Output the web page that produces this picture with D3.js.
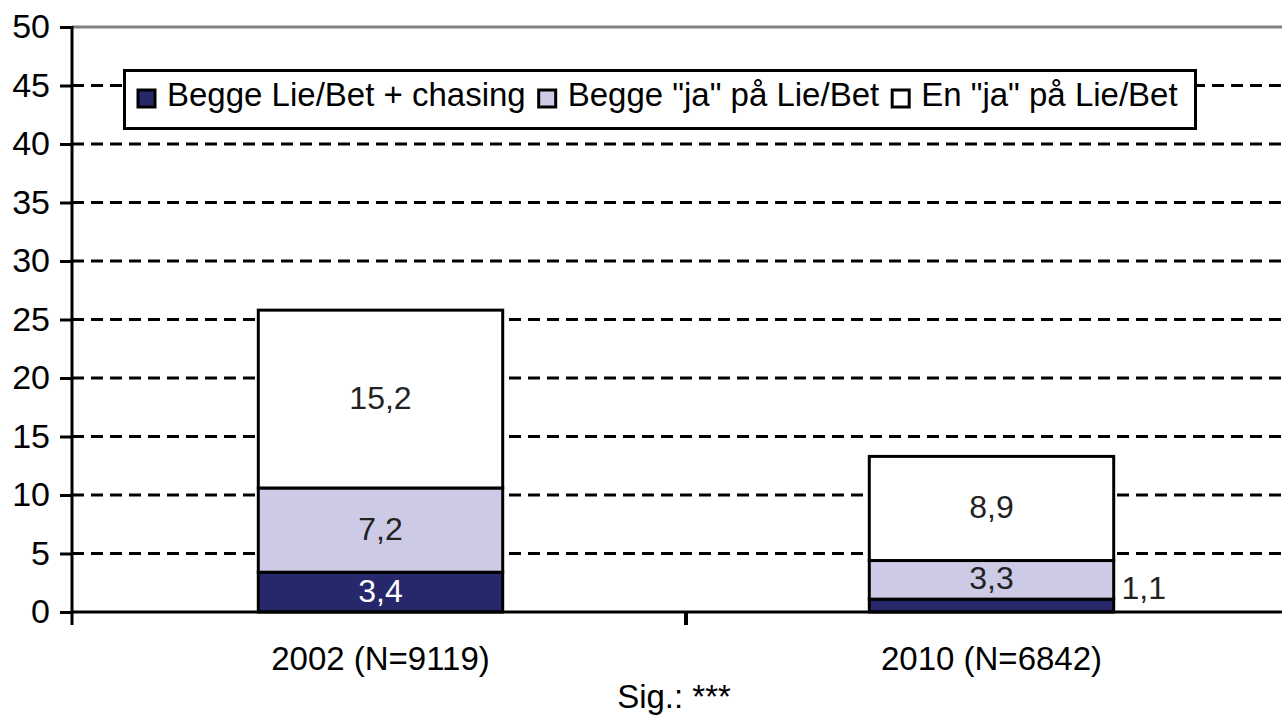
<!DOCTYPE html>
<html>
<head>
<meta charset="utf-8">
<script src="https://cdn.jsdelivr.net/npm/d3@7"></script>
<style>
  html, body { margin: 0; padding: 0; background: #fff; }
  svg { display: block; font-family: "Liberation Sans", Arial, sans-serif; }
</style>
</head>
<body>
<div id="chart"></div>
<script>
// Data
const categories = ["2002 (N=9119)", "2010 (N=6842)"];
const seriesNames = ["Begge Lie/Bet + chasing", "Begge \"ja\" på Lie/Bet", "En \"ja\" på Lie/Bet"];
const chasing = [3.4, 1.1];
const beggeJa = [7.2, 3.3];
const enJa = [15.2, 8.9];
const yTicks = [0, 5, 10, 15, 20, 25, 30, 35, 40, 45, 50];
const footnote = "Sig.: ***";

const width = 1282, height = 715;
const colors = ["#27276b", "#cccae5", "#ffffff"];

const svg = d3.select("#chart").append("svg")
    .attr("width", width)
    .attr("height", height);

const x = d3.scaleBand()
    .domain(categories)
    .range([75, 1297])
    .paddingInner(0.6)
    .paddingOuter(0.3);

const y = d3.scaleLinear()
    .domain([0, 50])
    .range([612, 27]);

// Stack the series
const keys = ["s0", "s1", "s2"];
const rows = categories.map((c, i) => ({ cat: c, s0: chasing[i], s1: beggeJa[i], s2: enJa[i] }));
const stacked = d3.stack().keys(keys)(rows);

// Gridlines
svg.append("g")
    .selectAll("line")
    .data(yTicks.filter(t => t > 0))
    .join("line")
    .attr("x1", 72)
    .attr("x2", width)
    .attr("y1", d => y(d))
    .attr("y2", d => y(d))
    .attr("stroke", d => d === 50 ? "#808080" : "#000")
    .attr("stroke-width", 3)
    .attr("stroke-dasharray", d => d === 50 ? null : "12,7");

// Y axis
const yAxis = svg.append("g")
    .attr("transform", "translate(72,0)")
    .call(d3.axisLeft(y).tickValues(yTicks).tickSize(12).tickPadding(10));
yAxis.select(".domain").remove();
yAxis.selectAll(".tick line").attr("stroke", "#000").attr("stroke-width", 3);
yAxis.selectAll(".tick text")
    .attr("fill", "#000")
    .style("font-size", "34px")
    .style("font-family", "'Liberation Sans', Arial, sans-serif");
svg.append("line")
    .attr("x1", 72).attr("x2", 72)
    .attr("y1", y(50) - 1).attr("y2", y(0) + 13)
    .attr("stroke", "#000").attr("stroke-width", 3);

// Bars
const layer = svg.append("g")
    .selectAll("g")
    .data(stacked)
    .join("g")
    .attr("fill", (d, i) => colors[i]);

layer.selectAll("rect")
    .data(d => d)
    .join("rect")
    .attr("x", d => x(d.data.cat))
    .attr("width", x.bandwidth())
    .attr("y", d => y(d[1]))
    .attr("height", d => y(d[0]) - y(d[1]))
    .attr("stroke", "#000")
    .attr("stroke-width", 3);

// X axis
svg.append("line")
    .attr("x1", 72).attr("x2", width)
    .attr("y1", y(0)).attr("y2", y(0))
    .attr("stroke", "#000").attr("stroke-width", 3);
svg.append("line")
    .attr("x1", x.range()[0] + x.step()).attr("x2", x.range()[0] + x.step())
    .attr("y1", y(0)).attr("y2", y(0) + 13)
    .attr("stroke", "#000").attr("stroke-width", 4);

svg.append("g")
    .selectAll("text")
    .data(categories)
    .join("text")
    .attr("x", d => x(d) + x.bandwidth() / 2)
    .attr("y", 670)
    .attr("text-anchor", "middle")
    .style("font-size", "33px")
    .attr("fill", "#000")
    .text(d => d);

svg.append("text")
    .attr("x", (x.range()[0] + x.range()[1]) / 2 - 12)
    .attr("y", 708)
    .attr("text-anchor", "middle")
    .style("font-size", "33px")
    .attr("fill", "#000")
    .text(footnote);

// Value labels
const fmt = v => v.toFixed(1).replace(".", ",");
stacked.forEach((series, si) => {
    series.forEach(d => {
        const v = d.data[keys[si]];
        const outside = v < 2;
        const cx = outside ? x(d.data.cat) + x.bandwidth() + 30 : x(d.data.cat) + x.bandwidth() / 2;
        const cy = outside ? y(d[1]) - 12 : (y(d[0]) + y(d[1])) / 2 - 2;
        svg.append("text")
            .attr("x", cx)
            .attr("y", cy)
            .attr("dy", "0.36em")
            .attr("text-anchor", "middle")
            .style("font-size", "32px")
            .attr("fill", si === 0 && !outside ? "#fff" : "#222")
            .text(fmt(v));
    });
});

// Legend
const legend = svg.append("g");
legend.append("rect")
    .attr("x", 124.5).attr("y", 70.5)
    .attr("width", 1071).attr("height", 58)
    .attr("fill", "#fff")
    .attr("stroke", "#000").attr("stroke-width", 3);

let lx = 138;
seriesNames.forEach((name, i) => {
    legend.append("rect")
        .attr("x", lx).attr("y", 90)
        .attr("width", 17).attr("height", 17)
        .attr("fill", colors[i])
        .attr("stroke", "#000").attr("stroke-width", 3);
    const t = legend.append("text")
        .attr("x", lx + 29)
        .attr("y", 106)
        .style("font-size", "33px")
        .attr("fill", "#000")
        .text(name);
    lx += 29 + t.node().getComputedTextLength() + 13;
});
</script>
</body>
</html>
